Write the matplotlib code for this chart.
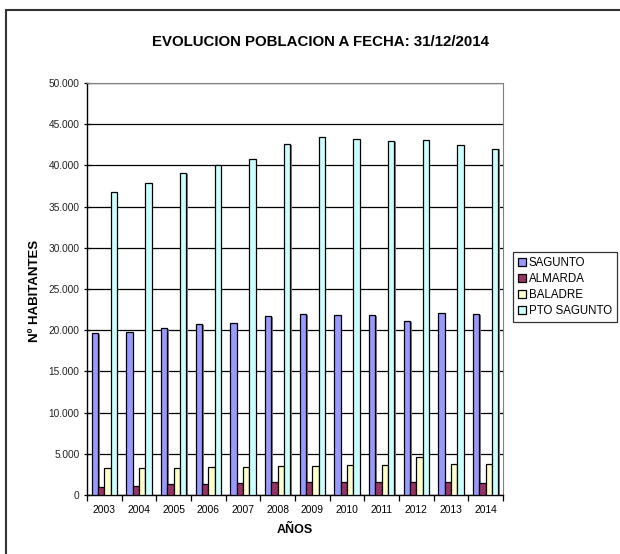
import matplotlib
matplotlib.use("Agg")
import matplotlib.pyplot as plt
import numpy as np
from matplotlib.ticker import FuncFormatter, FixedLocator
from matplotlib.patches import Rectangle

plt.rcParams['font.family'] = ['Liberation Sans', 'DejaVu Sans']

years = ['2003', '2004', '2005', '2006', '2007', '2008', '2009', '2010', '2011', '2012', '2013', '2014']
series_names = ['SAGUNTO', 'ALMARDA', 'BALADRE', 'PTO SAGUNTO']
sagunto = [19620, 19780, 20230, 20790, 20830, 21680, 22000, 21800, 21880, 21150, 22120, 21930]
almarda = [970, 1130, 1290, 1290, 1460, 1580, 1580, 1580, 1580, 1580, 1580, 1460]
baladre = [3310, 3310, 3310, 3400, 3440, 3520, 3560, 3640, 3680, 4570, 3800, 3800]
pto_sagunto = [36800, 37900, 39100, 40050, 40750, 42600, 43400, 43250, 43000, 43100, 42450, 42050]
colors = ['#9999FF', '#993366', '#FFFFCC', '#CCFFFF']

title = 'EVOLUCION POBLACION A FECHA: 31/12/2014'
xlabel = 'AÑOS'
ylabel = 'Nº HABITANTES'

fig = plt.figure(figsize=(6.2, 5.54), dpi=100)
ax = fig.add_axes([87/620, 1 - 495/554, (503-87)/620, (495-83)/554])

x = np.arange(len(years))
w = 1/5.5
data = [sagunto, almarda, baladre, pto_sagunto]
for i, (vals, c, name) in enumerate(zip(data, colors, series_names)):
    pos = x - 1.5*w + i*w
    ax.bar(pos + 0.045, np.array(vals) - 120, width=w, color='#7f7f7f', edgecolor='none', zorder=2)
    ax.bar(pos, vals, width=w, color=c, edgecolor='black', linewidth=0.9, zorder=3, label=name)

ax.set_xlim(-0.5, len(years) - 0.5)
ax.set_ylim(0, 50000)
ax.yaxis.set_major_locator(FixedLocator(np.arange(0, 50001, 5000)))
ax.yaxis.set_major_formatter(FuncFormatter(lambda v, p: f'{int(v):,}'.replace(',', '.')))
ax.set_xticks(x)
ax.set_xticklabels(years, fontsize=7.4)
ax.tick_params(axis='x', which='major', length=0, pad=7)
ax.set_xticks(np.arange(-0.5, len(years), 1), minor=True)
ax.tick_params(axis='x', which='minor', length=4, width=0.9, direction='out', color='black')
ax.tick_params(axis='y', which='major', length=5, width=0.9, direction='inout', labelsize=7.3, colors='black', pad=3)
for lab in ax.get_yticklabels():
    lab.set_color('#222222')

ax.yaxis.grid(True, color='black', linewidth=0.9, zorder=0)
ax.set_axisbelow(True)
ax.spines['left'].set_color('black')
ax.spines['bottom'].set_color('black')
ax.spines['left'].set_linewidth(1.0)
ax.spines['bottom'].set_linewidth(1.0)
ax.spines['top'].set_color('#808080')
ax.spines['right'].set_color('#808080')

fig.text(320/620, 1 - 42/554, title, ha='center', va='center', fontsize=10.8, fontweight='bold')
fig.text(295/620, 1 - 530/554, xlabel, ha='center', va='center', fontsize=9, fontweight='bold')
fig.text(35/620, 1 - 291/554, ylabel, ha='center', va='center', rotation=90, fontsize=9.5, fontweight='bold')

leg = fig.legend(loc='upper left', bbox_to_anchor=(513/620, 1 - 252/554), fontsize=8.3,
                 frameon=True, fancybox=False, edgecolor='black', handlelength=0.7,
                 handleheight=0.7, handletextpad=0.2, borderpad=0.45, labelspacing=0.35,
                 borderaxespad=0)
leg.get_frame().set_linewidth(0.9)

fig.patches.append(Rectangle((6/620, -0.1), 1.2, 1 - 10/554 + 0.1, transform=fig.transFigure,
                             fill=False, edgecolor='#333333', linewidth=1.5))

fig.savefig('out.png', dpi=100)
